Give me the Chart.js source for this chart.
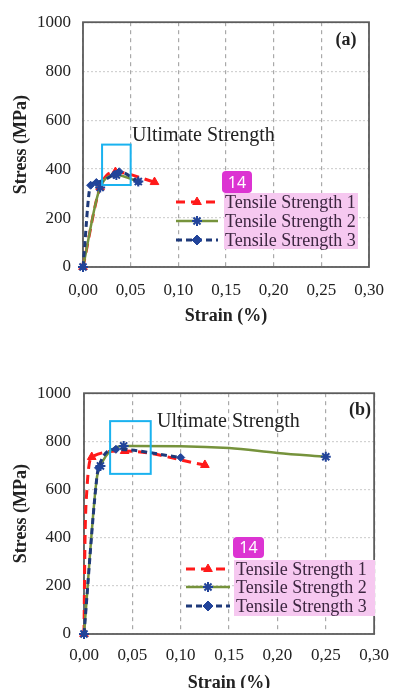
<!DOCTYPE html>
<html><head><meta charset="utf-8">
<script src="https://cdn.jsdelivr.net/npm/chart.js@4"></script>
<style>
html,body{margin:0;padding:0;background:#fff;overflow:hidden;width:400px;height:688px}
#wa{position:absolute;left:0;top:0;width:400px;height:330px}
#wb{position:absolute;left:0;top:370px;width:400px;height:330px}
</style></head><body>
<div id="wa"><canvas id="ca"></canvas></div>
<div id="wb"><canvas id="cb"></canvas></div>
<script>
// ---- data ----
const xTicks = [0, 0.05, 0.10, 0.15, 0.20, 0.25, 0.30];
const yTicks = [0, 200, 400, 600, 800, 1000];
const seriesNames = ['Tensile Strength 1', 'Tensile Strength 2', 'Tensile Strength 3'];
const xTitle = 'Strain (%)';
const yTitle = 'Stress (MPa)';
const annotationText = 'Ultimate Strength';

// panel (a)
const a_strain1 = [0, 0.018, 0.034, 0.075];
const a_stress1 = [0, 326, 388, 347];
const a_strain2 = [0, 0.018, 0.035, 0.058];
const a_stress2 = [0, 325, 376, 349];
const a_strain3 = [0, 0.008, 0.014, 0.033, 0.038, 0.058];
const a_stress3 = [0, 334, 345, 378, 389, 348];
const a_box = [0.020, 0.050, 335, 500];   // strain from, to, stress from, to

// panel (b)
const b_strain1 = [0, 0.001, 0.003, 0.008, 0.042, 0.125];
const b_stress1 = [0, 380, 600, 735, 760, 702];
const b_strain2 = [0, 0.013, 0.017, 0.041, 0.10, 0.15, 0.20, 0.25];
const b_stress2 = [0, 640, 698, 781, 780, 772, 752, 736];
const b_strain3 = [0, 0.013, 0.015, 0.033, 0.10];
const b_stress3 = [0, 640, 690, 767, 733];
const b_box = [0.027, 0.069, 665, 884];

// ---- styling ----
const RED = '#ff1a1a', GREEN = '#76933c', NAVY = '#1f3a7a', MARK = '#22449a';
const SERIF = '"Liberation Serif", "Times New Roman", serif';
const TXT = '#222';

function pts(xs, ys) { return xs.map((x, i) => ({x: x, y: ys[i]})); }

function makeSets(s1x, s1y, s2x, s2y, s3x, s3y, r1, r2, r3) {
  return [
    {label: seriesNames[0], data: pts(s1x, s1y), borderColor: RED, borderWidth: 3, borderDash: [9, 6],
     pointStyle: 'triangle', pointRadius: r1, pointBackgroundColor: RED, pointBorderColor: RED, pointBorderWidth: 1,
     cubicInterpolationMode: 'monotone', clip: false, order: 3},
    {label: seriesNames[1], data: pts(s2x, s2y), borderColor: GREEN, borderWidth: 2.5,
     pointStyle: 'star', pointRadius: r2, pointBackgroundColor: MARK, pointBorderColor: MARK, pointBorderWidth: 2,
     cubicInterpolationMode: 'monotone', clip: false, order: 2},
    {label: seriesNames[2], data: pts(s3x, s3y), borderColor: NAVY, borderWidth: 3, borderDash: [6, 4],
     pointStyle: 'rectRot', pointRadius: r3, pointBackgroundColor: MARK, pointBorderColor: MARK, pointBorderWidth: 1,
     cubicInterpolationMode: 'monotone', clip: false, order: 1}
  ];
}

function decoPlugin(cfg) {
  return {
    id: 'deco',
    beforeDatasetsDraw(chart) {
      const {ctx, chartArea: c} = chart;
      ctx.save();
      ctx.strokeStyle = '#5c5c5c';
      ctx.lineWidth = 1.8;
      ctx.strokeRect(c.left, c.top, c.right - c.left, c.bottom - c.top);
      ctx.restore();
    },
    afterDraw(chart) {
      const ctx = chart.ctx, xs = chart.scales.x, ys = chart.scales.y;
      ctx.save();
      // annotation box
      const bx0 = xs.getPixelForValue(cfg.box[0]), bx1 = xs.getPixelForValue(cfg.box[1]);
      const by0 = ys.getPixelForValue(cfg.box[2]), by1 = ys.getPixelForValue(cfg.box[3]);
      ctx.strokeStyle = '#1ab2ef';
      ctx.lineWidth = 2;
      ctx.strokeRect(bx0, by1, bx1 - bx0, by0 - by1);
      // annotation text
      ctx.fillStyle = TXT;
      ctx.textBaseline = 'middle';
      ctx.textAlign = 'left';
      ctx.font = '20px ' + SERIF;
      ctx.fillText(annotationText, cfg.textX, cfg.textY);
      // panel label
      ctx.font = 'bold 18px ' + SERIF;
      ctx.textAlign = 'center';
      ctx.fillText(cfg.panel, cfg.panelX, cfg.panelY);
      // badge
      const b = cfg.badge;
      ctx.fillStyle = '#dc34d2';
      ctx.beginPath();
      const r = 4;
      ctx.moveTo(b[0] + r, b[1]);
      ctx.lineTo(b[2] - r, b[1]); ctx.quadraticCurveTo(b[2], b[1], b[2], b[1] + r);
      ctx.lineTo(b[2], b[3] - r); ctx.quadraticCurveTo(b[2], b[3], b[2] - r, b[3]);
      ctx.lineTo(b[0] + r, b[3]); ctx.quadraticCurveTo(b[0], b[3], b[0], b[3] - r);
      ctx.lineTo(b[0], b[1] + r); ctx.quadraticCurveTo(b[0], b[1], b[0] + r, b[1]);
      ctx.fill();
      ctx.fillStyle = '#fff';
      ctx.font = '16px "Noto Sans", "DejaVu Sans", sans-serif';
      ctx.fillText('14', (b[0] + b[2]) / 2, (b[1] + b[3]) / 2 + 1);
      // legend background
      const L = cfg.legend;
      ctx.fillStyle = '#f6c8f0';
      ctx.fillRect(L.bg[0], L.bg[1], L.bg[2] - L.bg[0], L.bg[3] - L.bg[1]);
      chart.data.datasets.forEach((ds, i) => {
        const y = L.rows[i];
        ctx.save();
        ctx.strokeStyle = ds.borderColor;
        ctx.lineWidth = ds.borderWidth;
        ctx.setLineDash(ds.borderDash || []);
        ctx.beginPath();
        ctx.moveTo(L.x0, y); ctx.lineTo(L.x1, y);
        ctx.stroke();
        ctx.setLineDash([]);
        ctx.fillStyle = ds.pointBackgroundColor;
        ctx.strokeStyle = ds.pointBorderColor;
        ctx.lineWidth = ds.pointBorderWidth;
        Chart.helpers.drawPoint(ctx, {pointStyle: ds.pointStyle, radius: 5, rotation: 0, borderWidth: ds.pointBorderWidth},
          (L.x0 + L.x1) / 2, y);
        ctx.restore();
        ctx.fillStyle = '#3c2640';
        ctx.font = '18px ' + SERIF;
        ctx.textAlign = 'left';
        ctx.textBaseline = 'middle';
        ctx.fillText(ds.label, L.tx, y + 1);
      });
      ctx.restore();
    }
  };
}

function makeChart(id, sets, cfg) {
  return new Chart(document.getElementById(id), {
    type: 'line',
    data: {datasets: sets},
    plugins: [decoPlugin(cfg)],
    options: {
      responsive: true, maintainAspectRatio: false, animation: false,
      layout: {padding: {left: 0, right: cfg.padRight, top: cfg.padTop, bottom: 0}},
      plugins: {legend: {display: false}, tooltip: {enabled: false}},
      scales: {
        x: {
          type: 'linear', min: 0, max: 0.3,
          afterBuildTicks: s => { s.ticks = xTicks.map(v => ({value: v})); },
          afterFit: s => { s.height = cfg.xHeight; },
          ticks: {callback: v => Number(v).toFixed(2).replace('.', ','), font: {family: SERIF, size: 17},
                  color: TXT, padding: cfg.xTickPad, maxRotation: 0, autoSkip: false},
          grid: {color: '#a9a9a9', lineWidth: 1.2, drawTicks: false, borderDash: [4, 4]},
          border: {display: false, dash: [4, 4]},
          title: {display: true, text: xTitle, color: TXT, font: {family: SERIF, size: 18, weight: 'bold'},
                  padding: {top: 0, bottom: cfg.xTitlePad}}
        },
        y: {
          type: 'linear', min: 0, max: 1000,
          afterBuildTicks: s => { s.ticks = yTicks.map(v => ({value: v})); },
          afterFit: s => { s.width = cfg.yWidth; },
          ticks: {callback: v => String(v), font: {family: SERIF, size: 17}, color: TXT, padding: cfg.yTickPad},
          grid: {color: '#d2d2d2', lineWidth: 1.2, drawTicks: false, borderDash: [2, 2]},
          border: {display: false, dash: [2, 2]},
          title: {display: true, text: yTitle, color: TXT, font: {family: SERIF, size: 18, weight: 'bold'},
                  padding: {top: 11, bottom: 0}}
        }
      }
    }
  });
}

makeChart('ca',
  makeSets(a_strain1, a_stress1, a_strain2, a_stress2, a_strain3, a_stress3,
    [5, 5, 5, 5], [5, 5, 5, 5], [4, 4, 4, 4, 4, 4]),
  {box: a_box, textX: 132, textY: 136, panel: '(a)', panelX: 346, panelY: 40,
   badge: [222, 171, 252, 193],
   legend: {bg: [224, 193, 358, 249], rows: [202, 221, 240], x0: 176, x1: 218, tx: 225},
   padRight: 31, padTop: 16, xHeight: 63, xTickPad: 13, xTitlePad: 3, yWidth: 83, yTickPad: 12});

makeChart('cb',
  makeSets(b_strain1, b_stress1, b_strain2, b_stress2, b_strain3, b_stress3,
    [5, 0, 0, 5, 5, 5], [5, 0, 5, 5, 0, 0, 0, 5], [4, 0, 4, 4, 4]),
  {box: b_box, textX: 157, textY: 52, panel: '(b)', panelX: 360, panelY: 40,
   badge: [233, 167, 264, 188],
   legend: {bg: [234, 190, 375, 246], rows: [199, 217, 236], x0: 186, x1: 230, tx: 236},
   padRight: 16, padTop: 22, xHeight: 66, xTickPad: 11, xTitlePad: 6, yWidth: 84, yTickPad: 13});
</script>
</body></html>
